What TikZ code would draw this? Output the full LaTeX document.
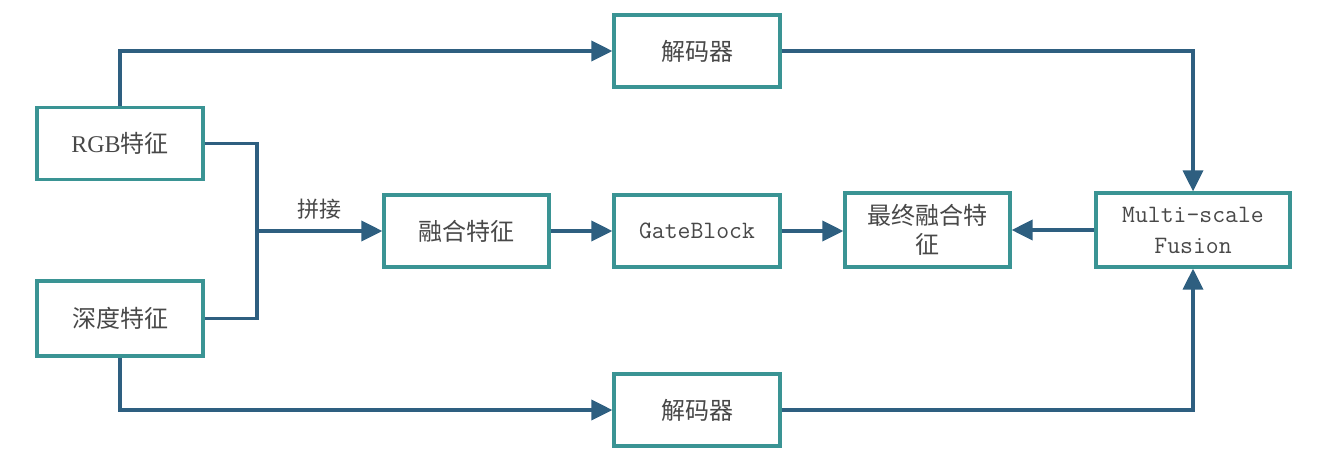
\documentclass[tikz,border=0pt]{standalone}
\usepackage{fontspec}
\setmainfont{Liberation Serif}
\newfontfamily\cjk{Noto Sans CJK SC}
\newfontfamily\monof{Latin Modern Mono}
\usetikzlibrary{arrows.meta}
\definecolor{boxc}{HTML}{3A9494}
\definecolor{arrc}{HTML}{2E5F80}
\definecolor{txtc}{HTML}{484848}
\begin{document}
\begin{tikzpicture}[x=1pt,y=-1pt,
  blk/.style={draw=boxc, line width=3.2pt, fill=white, minimum width=#1, minimum height=72pt, inner sep=2pt, align=center, text=txtc, font=\fontsize{24}{29}\selectfont},
  blk/.default=166pt,
  mono/.style={font=\fontsize{25}{31}\selectfont\monof},
  conn/.style={draw=arrc, line width=3.6pt, -{Triangle[length=21pt,width=20pt]}},
  plain/.style={draw=arrc, line width=3.6pt}]
\useasboundingbox (0,0) rectangle (1327,459);
\node[blk] (rgb) at (120,143.5) {RGB\cjk 特征};
\node[blk, minimum height=75pt] (dep) at (120,318.5) {\cjk 深度特征};
\node[blk] (dec1) at (697,51) {\cjk 解码器};
\node[blk] (dec2) at (697,410) {\cjk 解码器};
\node[blk, minimum width=165pt] (fuse) at (466.5,231) {\cjk 融合特征};
\node[blk, mono] (gate) at (697,231) {GateBlock};
\node[blk, minimum width=165pt, minimum height=74pt] (final) at (927.5,230) {\cjk 最终融合特\\\cjk 征};
\node[blk, mono, minimum width=194pt, minimum height=74pt] (msf) at (1193,230) {Multi-scale\\Fusion};
\coordinate (j) at (257,231);
\path[conn] (rgb.north) |- (dec1.west);
\path[conn] (dep.south) |- (dec2.west);
\path[plain] (rgb.east) -| (j);
\path[plain] (dep.east) -| (j);
\path[conn] (j) -- node[above=7pt, pos=0.5, text=txtc, font=\fontsize{22}{26}\selectfont\cjk] {拼接} (fuse.west);
\path[conn] (fuse.east) -- (gate.west);
\path[conn] (gate.east) -- (gate.east -| final.west);
\path[conn] (msf.west) -- (msf.west -| final.east);
\path[conn] (dec1.east) -| (msf.north);
\path[conn] (dec2.east) -| (msf.south);
\end{tikzpicture}
\end{document}
